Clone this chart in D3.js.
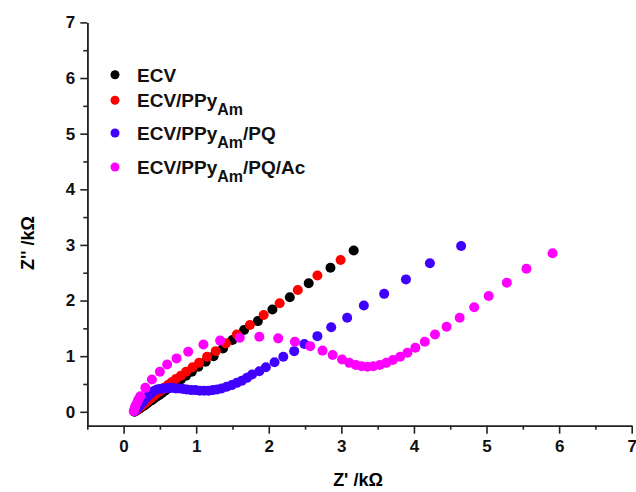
<!DOCTYPE html>
<html>
<head>
<meta charset="utf-8">
<script src="https://cdn.jsdelivr.net/npm/d3@7.9.0/dist/d3.min.js"></script>
<style>
  body { margin: 0; background: #fff; }
  svg { display: block; font-family: "Liberation Sans", Arial, sans-serif; }
  .axis path, .axis line { stroke: #222; stroke-width: 1.6; }
  .axis text { font-size: 17px; font-weight: bold; fill: #111; }
</style>
</head>
<body>
<svg id="chart" width="636" height="492"></svg>
<script>
// Nyquist data (kΩ)
const ecvX = [3.17, 2.85, 2.55, 2.29, 2.05, 1.85, 1.66, 1.50, 1.37, 1.24, 1.13, 1.03, 0.94, 0.86, 0.79, 0.73, 0.67, 0.62, 0.57, 0.53, 0.49, 0.45, 0.42, 0.39, 0.36, 0.33, 0.31, 0.29, 0.27, 0.25, 0.23, 0.21, 0.20, 0.18, 0.17, 0.16, 0.15];
const ecvY = [2.90, 2.59, 2.31, 2.06, 1.84, 1.63, 1.47, 1.29, 1.14, 1.00, 0.90, 0.81, 0.72, 0.65, 0.58, 0.52, 0.47, 0.42, 0.38, 0.34, 0.30, 0.27, 0.24, 0.21, 0.19, 0.16, 0.14, 0.12, 0.10, 0.09, 0.07, 0.05, 0.04, 0.03, 0.02, 0.01, 0.00];

const ppyX = [2.99, 2.67, 2.40, 2.15, 1.93, 1.74, 1.56, 1.41, 1.27, 1.15, 1.04, 0.95, 0.86, 0.79, 0.72, 0.66, 0.61, 0.56, 0.52, 0.48, 0.44, 0.41, 0.38, 0.35, 0.33, 0.31, 0.29, 0.27, 0.25, 0.23, 0.21, 0.20, 0.19, 0.18, 0.17, 0.16];
const ppyY = [2.73, 2.45, 2.19, 1.95, 1.74, 1.56, 1.39, 1.23, 1.09, 0.99, 0.88, 0.80, 0.72, 0.65, 0.59, 0.53, 0.48, 0.43, 0.39, 0.35, 0.31, 0.28, 0.25, 0.22, 0.20, 0.17, 0.15, 0.13, 0.11, 0.09, 0.07, 0.06, 0.04, 0.03, 0.02, 0.01];

const pqX = [4.65, 4.22, 3.89, 3.59, 3.31, 3.08, 2.86, 2.67, 2.49, 2.35, 2.20, 2.08, 1.96, 1.87, 1.77, 1.70, 1.63, 1.56, 1.49, 1.42, 1.35, 1.29, 1.23, 1.17, 1.11, 1.05, 0.99, 0.93, 0.87, 0.82, 0.77, 0.72, 0.67, 0.62, 0.58, 0.54, 0.50, 0.46, 0.43, 0.40, 0.37, 0.34, 0.31, 0.28, 0.26, 0.24, 0.22, 0.20, 0.18, 0.16, 0.15];
const pqY = [2.98, 2.67, 2.38, 2.12, 1.91, 1.69, 1.52, 1.36, 1.22, 1.09, 0.99, 0.89, 0.80, 0.73, 0.67, 0.61, 0.56, 0.52, 0.48, 0.45, 0.42, 0.40, 0.39, 0.38, 0.38, 0.38, 0.39, 0.39, 0.40, 0.41, 0.42, 0.42, 0.43, 0.43, 0.42, 0.42, 0.41, 0.40, 0.38, 0.36, 0.33, 0.29, 0.25, 0.21, 0.17, 0.14, 0.11, 0.08, 0.05, 0.03, 0.01];

const acX = [5.91, 5.55, 5.28, 5.03, 4.83, 4.63, 4.45, 4.29, 4.15, 4.02, 3.91, 3.81, 3.71, 3.62, 3.53, 3.44, 3.36, 3.28, 3.20, 3.11, 3.01, 2.88, 2.74, 2.57, 2.36, 2.13, 1.87, 1.60, 1.33, 1.10, 0.89, 0.73, 0.60, 0.50, 0.39, 0.30, 0.23, 0.20, 0.18, 0.16, 0.15, 0.14];
const acY = [2.85, 2.57, 2.32, 2.08, 1.88, 1.69, 1.53, 1.39, 1.26, 1.15, 1.06, 0.99, 0.93, 0.88, 0.84, 0.82, 0.81, 0.82, 0.84, 0.88, 0.94, 1.02, 1.10, 1.18, 1.26, 1.32, 1.35, 1.33, 1.28, 1.21, 1.08, 0.96, 0.85, 0.72, 0.58, 0.43, 0.28, 0.21, 0.15, 0.10, 0.05, 0.01];

const seriesNames = ['ECV', 'ECV/PPyAm', 'ECV/PPyAm/PQ', 'ECV/PPyAm/PQ/Ac'];
const seriesColors = ['#000000', '#ff0000', '#4000ff', '#ff00ff'];
const xTicks = [0, 1, 2, 3, 4, 5, 6, 7];
const yTicks = [0, 1, 2, 3, 4, 5, 6, 7];

const series = [
  { xs: ecvX, ys: ecvY },
  { xs: ppyX, ys: ppyY },
  { xs: pqX, ys: pqY },
  { xs: acX, ys: acY }
];

const svg = d3.select('#chart');
const x = d3.scaleLinear().domain([-0.5, 7]).range([87.3, 631.7]);
const y = d3.scaleLinear().domain([-0.25, 7]).range([425.7, 22.4]);

// minor ticks
const xMinor = d3.range(-0.5, 7.01, 1);
const yMinor = d3.range(0.5, 7, 1);
svg.append('g').attr('class', 'axis').attr('transform', 'translate(0,425.7)')
  .call(d3.axisBottom(x).tickValues(xMinor).tickSize(4).tickSizeOuter(0).tickFormat(''));
svg.append('g').attr('class', 'axis').attr('transform', 'translate(87.3,0)')
  .call(d3.axisLeft(y).tickValues(yMinor).tickSize(4).tickSizeOuter(0).tickFormat(''));

// major ticks
svg.append('g').attr('class', 'axis').attr('transform', 'translate(0,425.7)')
  .call(d3.axisBottom(x).tickValues(xTicks).tickSize(8).tickSizeOuter(0).tickPadding(6).tickFormat(d3.format('d')));
svg.append('g').attr('class', 'axis').attr('transform', 'translate(87.3,0)')
  .call(d3.axisLeft(y).tickValues(yTicks).tickSize(7).tickSizeOuter(0).tickPadding(5).tickFormat(d3.format('d')));

// points
series.forEach((s, i) => {
  svg.append('g').selectAll('circle')
    .data(s.xs.map((v, k) => [v, s.ys[k]]))
    .join('circle')
    .attr('cx', d => x(d[0]))
    .attr('cy', d => y(d[1]))
    .attr('r', 5)
    .attr('fill', seriesColors[i]);
});

// axis titles
svg.append('text')
  .attr('x', 358).attr('y', 486)
  .attr('text-anchor', 'middle')
  .attr('font-size', 18).attr('font-weight', 'bold')
  .text("Z' /kΩ");
svg.append('text')
  .attr('transform', 'translate(34,243) rotate(-90)')
  .attr('text-anchor', 'middle')
  .attr('font-size', 18).attr('font-weight', 'bold')
  .text("Z'' /kΩ");

// legend
const legendY = [81.7, 107.3, 140, 174];
const legend = svg.append('g');
seriesNames.forEach((name, i) => {
  const by = legendY[i];
  legend.append('circle').attr('cx', 115).attr('cy', by - 7).attr('r', 4.5).attr('fill', seriesColors[i]);
  const t = legend.append('text').attr('x', 137).attr('y', by)
    .attr('font-size', 19).attr('font-weight', 'bold').attr('fill', '#111');
  const parts = name.split('Am');
  t.append('tspan').text(parts[0]);
  if (parts.length > 1) {
    t.append('tspan').attr('dy', 8).attr('font-size', 16).text('Am');
    if (parts[1]) t.append('tspan').attr('dy', -8).text(parts[1]);
  }
});
</script>
</body>
</html>
